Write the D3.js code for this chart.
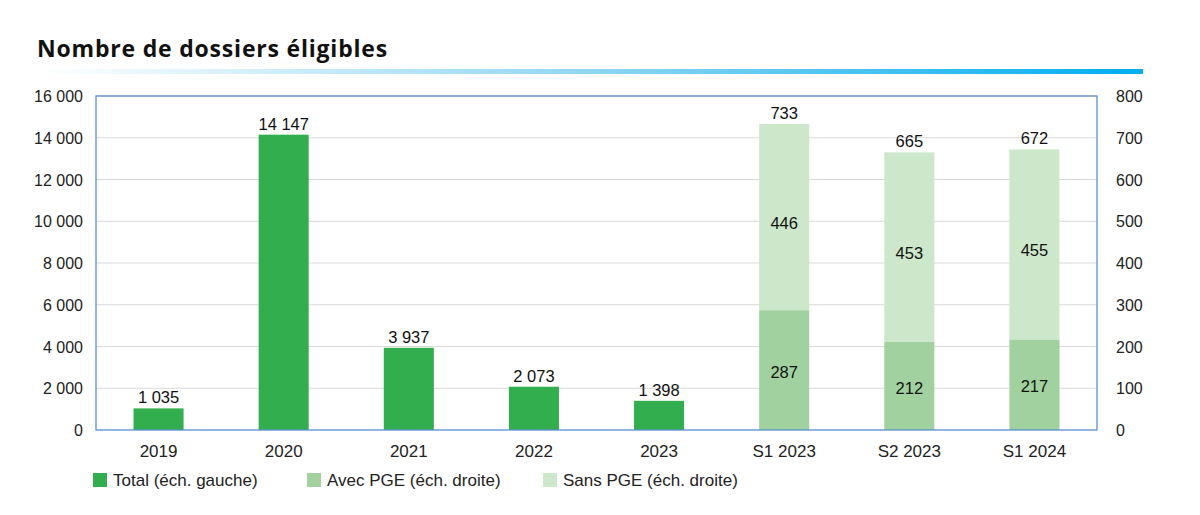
<!DOCTYPE html>
<html><head><meta charset="utf-8">
<script src="https://cdn.jsdelivr.net/npm/d3@7"></script>
<style>body{margin:0;background:#fff}svg text{font-family:"Liberation Sans",Arial,sans-serif}</style>
</head><body><svg id="c" width="1200" height="515"></svg>
<script>
const categories = ["2019","2020","2021","2022","2023","S1 2023","S2 2023","S1 2024"];
const totalCats = ["2019","2020","2021","2022","2023"];
const totalValues = [1035, 14147, 3937, 2073, 1398];
const semCats = ["S1 2023","S2 2023","S1 2024"];
const avecPGE = [287, 212, 217];
const sansPGE = [446, 453, 455];
const semTotals = [733, 665, 672];
const leftTicks = [0,2000,4000,6000,8000,10000,12000,14000,16000];
const rightTicks = [0,100,200,300,400,500,600,700,800];
const legendLabels = ["Total (éch. gauche)","Avec PGE (éch. droite)","Sans PGE (éch. droite)"];
const colors = ["#33ae4f","#a1d19e","#cde7ca"];

const svg = d3.select("#c");
const L=96,R=1097,T=96,B=430;
const fmt = v => d3.format(",")(v).replace(/,/g," ");

// title
svg.append("text").attr("x",37).attr("y",57).attr("font-size",23).attr("font-weight",700)
  .attr("letter-spacing",0.8)
  .style("font-family","'Open Sans',sans-serif").attr("fill","#111").text("Nombre de dossiers éligibles");
const grad = svg.append("defs").append("linearGradient").attr("id","g");
grad.append("stop").attr("offset","0").attr("stop-color","#ffffff");
grad.append("stop").attr("offset","0.5").attr("stop-color","#8fd6f3");
grad.append("stop").attr("offset","1").attr("stop-color","#00aeef");
svg.append("rect").attr("x",37).attr("y",69).attr("width",1106).attr("height",5).attr("fill","url(#g)");

const x = d3.scaleBand().domain(categories).range([L,R]).paddingInner(0.6).paddingOuter(0.3);
const yL = d3.scaleLinear().domain([0,16000]).range([B,T]);
const yR = d3.scaleLinear().domain([0,800]).range([B,T]);

// grid
svg.append("g").selectAll("line").data(leftTicks.slice(1)).join("line")
  .attr("x1",L).attr("x2",R).attr("y1",d=>yL(d)).attr("y2",d=>yL(d))
  .attr("stroke","#d9d9d9").attr("stroke-width",1);

// axes
const gl = svg.append("g").attr("transform",`translate(${L},0)`)
  .call(d3.axisLeft(yL).tickValues(leftTicks).tickSize(0).tickPadding(13).tickFormat(fmt));
const gr = svg.append("g").attr("transform",`translate(${R},0)`)
  .call(d3.axisRight(yR).tickValues(rightTicks).tickSize(0).tickPadding(19));
const gx = svg.append("g").attr("transform",`translate(0,${B})`)
  .call(d3.axisBottom(x).tickSize(0).tickPadding(15));
[gl,gr,gx].forEach(g=>{g.select(".domain").remove();g.selectAll("text").attr("fill","#222").style("font-family","'Liberation Sans',Arial,sans-serif");});
gl.selectAll("text").attr("dy","0.35em").attr("font-size",16);
gr.selectAll("text").attr("dy","0.35em").attr("font-size",16);
gx.selectAll("text").attr("font-size",17);

// total bars
svg.append("g").selectAll("rect").data(totalCats).join("rect")
  .attr("x",d=>x(d)).attr("width",x.bandwidth())
  .attr("y",(d,i)=>yL(totalValues[i])).attr("height",(d,i)=>B-yL(totalValues[i]))
  .attr("fill",colors[0]);
svg.append("g").selectAll("text").data(totalCats).join("text")
  .attr("x",d=>x(d)+x.bandwidth()/2).attr("y",(d,i)=>yL(totalValues[i])-5)
  .attr("text-anchor","middle").attr("font-size",16.5).attr("fill","#111").text((d,i)=>fmt(totalValues[i]));

// stacked
svg.append("g").selectAll("rect").data(semCats).join("rect")
  .attr("x",d=>x(d)).attr("width",x.bandwidth())
  .attr("y",(d,i)=>yR(avecPGE[i])).attr("height",(d,i)=>B-yR(avecPGE[i])).attr("fill",colors[1]);
svg.append("g").selectAll("rect").data(semCats).join("rect")
  .attr("x",d=>x(d)).attr("width",x.bandwidth())
  .attr("y",(d,i)=>yR(avecPGE[i]+sansPGE[i])).attr("height",(d,i)=>yR(avecPGE[i])-yR(avecPGE[i]+sansPGE[i])).attr("fill",colors[2]);
svg.append("g").selectAll("text").data(semCats).join("text")
  .attr("x",d=>x(d)+x.bandwidth()/2).attr("y",(d,i)=>(B+yR(avecPGE[i]))/2+2).attr("dy","0.35em")
  .attr("text-anchor","middle").attr("font-size",16.5).attr("fill","#111").text((d,i)=>avecPGE[i]);
svg.append("g").selectAll("text").data(semCats).join("text")
  .attr("x",d=>x(d)+x.bandwidth()/2).attr("y",(d,i)=>(yR(avecPGE[i])+yR(avecPGE[i]+sansPGE[i]))/2+6).attr("dy","0.35em")
  .attr("text-anchor","middle").attr("font-size",16.5).attr("fill","#111").text((d,i)=>sansPGE[i]);
svg.append("g").selectAll("text").data(semCats).join("text")
  .attr("x",d=>x(d)+x.bandwidth()/2).attr("y",(d,i)=>yR(semTotals[i])-5)
  .attr("text-anchor","middle").attr("font-size",16.5).attr("fill","#111").text((d,i)=>semTotals[i]);

// border
svg.append("rect").attr("x",L).attr("y",T).attr("width",R-L).attr("height",B-T)
  .attr("fill","none").attr("stroke","#5b8fd0").attr("stroke-width",1.3);

// legend
const lx=[93,307,543];
const lg = svg.append("g").selectAll("g").data(legendLabels).join("g")
  .attr("transform",(d,i)=>`translate(${lx[i]},473)`);
lg.append("rect").attr("width",14).attr("height",14).attr("fill",(d,i)=>colors[i]);
lg.append("text").attr("x",20).attr("y",7).attr("dy","0.36em").attr("font-size",17).attr("fill","#222").text(d=>d);
</script></body></html>
